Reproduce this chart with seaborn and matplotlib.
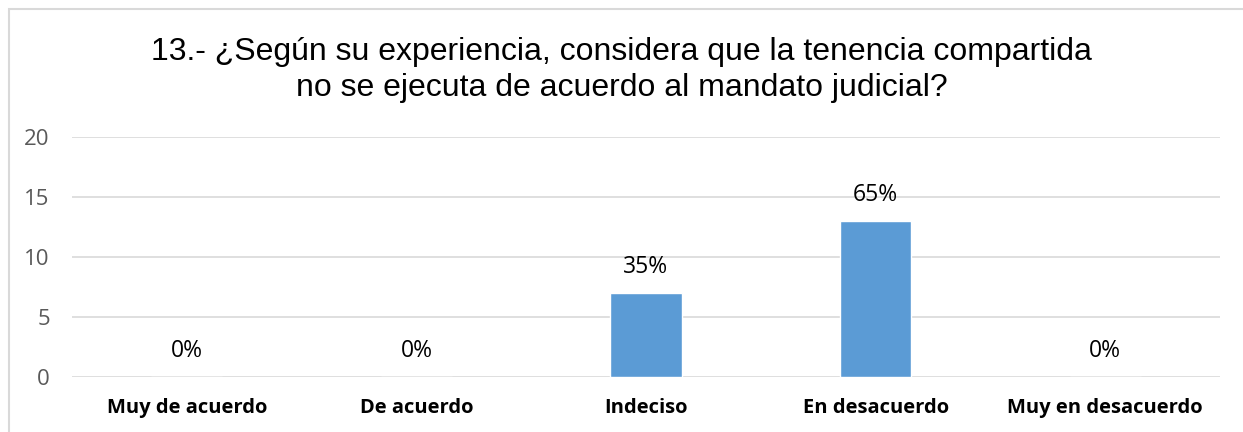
import matplotlib.pyplot as plt
import pandas as pd
import seaborn as sns
from matplotlib.patches import Rectangle

categories = ["Muy de acuerdo", "De acuerdo", "Indeciso", "En desacuerdo", "Muy en desacuerdo"]
counts = [0, 0, 7, 13, 0]
pct_labels = ["0%", "0%", "35%", "65%", "0%"]
title = "13.- ¿Según su experiencia, considera que la tenencia compartida\nno se ejecuta de acuerdo al mandato judicial?"

sns.set_theme(style="white")
plt.rcParams["font.family"] = ["Liberation Sans", "DejaVu Sans"]

df = pd.DataFrame({"cat": categories, "n": counts})

fig = plt.figure(figsize=(12.43, 4.32), dpi=100)
ax = fig.add_axes([72 / 1243, 1 - 377 / 432, (1220 - 72) / 1243, (377 - 137) / 432])

# light frame around the chart, like the spreadsheet export
fig.patches.append(Rectangle((8.5 / 1243, -0.1), 1.2, (1 - 8.5 / 432) + 0.1,
                             transform=fig.transFigure, fill=False,
                             edgecolor="#d9d9d9", linewidth=1.5, zorder=0))

sns.barplot(data=df, x="cat", y="n", color="#5b9bd5", saturation=1,
            width=0.31, ax=ax, zorder=3)

ax.set_ylim(0, 20)
ax.set_yticks([0, 5, 10, 15, 20])
ax.yaxis.grid(True, color="#d9d9d9", linewidth=1.2, zorder=0)
ax.set_axisbelow(True)
for s in ax.spines.values():
    s.set_visible(False)
ax.tick_params(axis="y", length=0, pad=16, labelsize=16, labelcolor="#595959")
ax.tick_params(axis="x", length=0, pad=15, labelcolor="#000000")
for lab in ax.get_xticklabels():
    lab.set_fontfamily(["Open Sans", "DejaVu Sans"])
    lab.set_fontweight("bold")
    lab.set_fontsize(14.5)
for lab in ax.get_yticklabels():
    lab.set_fontfamily(["Open Sans", "DejaVu Sans"])
ax.set_xlabel("")
ax.set_ylabel("")

for i, (v, t) in enumerate(zip(counts, pct_labels)):
    ax.annotate(t, (i, v), xytext=(0, 10), textcoords="offset points",
                ha="center", va="bottom", fontsize=16.5, color="#000000",
                family=["Open Sans", "DejaVu Sans"])

fig.text(0.5, 1 - 70 / 432, title, ha="center", va="center",
         fontsize=23, color="#000000", linespacing=1.22)

fig.savefig("out.png", dpi=100)
